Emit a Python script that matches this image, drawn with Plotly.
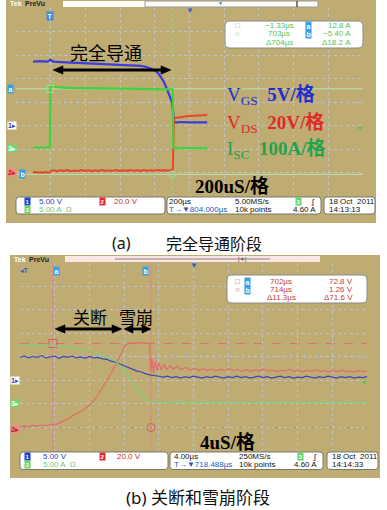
import plotly.graph_objects as go

W, H = 387, 510

# ====================== DATA ======================
# Panel (a) 完全导通阶段 : 200 µs/div, CH1 5 V/div, CH2 20 V/div, CH3 5 A/div
A_T_BLUE = [-99, -60, -20, -8, -1, 6, 20, 60, 120, 180, 250, 320, 380, 430, 480, 520, 550, 575,
            595, 610, 625, 640, 655, 668, 680, 692, 702, 706, 710, 714, 730, 760, 800, 850, 905]
A_V_BLUE = [13.5, 13.6, 13.5, 13.6, 13.9, 13.8, 13.5, 13.4, 13.3, 13.3, 13.1, 13.0, 12.9, 12.8, 12.7,
            12.6, 12.4, 12.1, 11.8, 11.4, 10.9, 10.1, 9.2, 8.1, 7.0, 6.0, 4.9, 3.6, 1.9, 0.64,
            0.55, 0.64, 0.55, 0.62, 0.55]
A_T_RED = [-99, -85, -70, -55, -40, -25, -10, -3, 3,
           20, 40, 60, 80, 100, 120, 140, 160, 180, 200, 220, 240, 260, 280, 300, 320, 340, 360,
           380, 400, 420, 440, 460, 480, 500, 520, 540, 560, 580, 600, 620, 640, 660, 680, 700,
           707, 710, 713, 720, 740, 760, 780, 800, 820, 840, 860, 880, 905]
A_V_RED = [0.4, 0.9, 0.2, 0.7, 0.3, 0.8, 0.2, 0.5, 1.6,
           2.3, 1.5, 2.2, 1.6, 2.4, 1.5, 2.1, 1.7, 2.4, 1.6, 2.2, 1.5, 2.3, 1.7, 2.4, 1.6, 2.2, 1.8,
           2.5, 1.7, 2.3, 1.6, 2.4, 1.8, 2.3, 1.7, 2.5, 1.8, 2.4, 1.9, 2.6, 1.9, 2.5, 2.0, 2.6,
           2.8, 25.0, 45.5, 46.8, 47.4, 47.9, 48.1, 48.4, 48.7, 48.9, 49.1, 49.2, 49.3]
A_T_GRN = [-99, -60, -20, -2, 1, 4, 8, 20, 60, 100, 200, 300, 400, 500, 600, 700, 706, 709, 720, 800, 905]
A_I_GRN = [0.32, 0.34, 0.30, 0.32, 13.6, 13.5, 13.3, 13.2, 13.1, 13.0, 12.95, 12.9, 12.85, 12.8,
           12.75, 12.7, 12.7, 0.3, 0.2, 0.2, 0.2]
A_CURSOR_T = [-1.33, 703.0]
A_CURSOR_I = [12.8, -5.40]
A_READ_T = ["\u22121.33\u00b5s", "703\u00b5s", "\u0394704\u00b5s"]
A_READ_Y = ["12.8 A", "\u22125.40 A", "\u039418.2 A"]

# Panel (b) 关断和雪崩阶段 : 4 µs/div
B_T = [698.2, 698.7, 699.2, 699.7, 700.2, 700.7, 701.2, 701.7, 702.2, 702.7,
       703.2, 703.7, 704.2, 704.7, 705.2, 705.7, 706.2, 706.7, 707.2, 707.7,
       708.2, 708.7, 709.2, 709.7, 710.2, 710.7, 711.2, 711.7, 712.2, 712.7,
       713.2, 713.7, 714.2, 714.7, 715.2, 715.7, 716.2, 716.7, 717.2, 717.7,
       718.2, 718.7, 719.2, 719.7, 720.2, 720.7, 721.2, 721.7, 722.2, 722.7,
       723.2, 723.7, 724.2, 724.7, 725.2, 725.7, 726.2, 726.7, 727.2, 727.7,
       728.2, 728.7, 729.2, 729.7, 730.2, 730.7, 731.2, 731.7, 732.2, 732.7,
       733.2, 733.7, 734.2, 734.7, 735.2, 735.7, 736.2, 736.7, 737.2, 737.7,
       738.2]
B_V_BLUE = [5.0, 5.3, 4.9, 5.2, 5.0, 5.4, 4.9, 5.1, 5.3, 4.8,
            5.2, 5.0, 5.3, 4.9, 5.1, 4.8, 5.2, 4.9, 5.0, 4.7,
            4.6, 4.2, 4.0, 3.6, 3.2, 2.9, 2.5, 2.1, 1.9, 1.5,
            1.3, 1.2, 1.0, 0.8, 1.0, 0.7, 0.9, 0.6, 0.9, 0.7,
            1.0, 0.8, 0.6, 0.9, 0.7, 1.0, 0.8, 0.6, 0.9, 0.7,
            1.0, 0.7, 0.9, 0.6, 0.8, 1.0, 0.7, 0.9, 0.6, 0.8,
            1.0, 0.7, 0.9, 0.6, 0.8, 0.7, 1.0, 0.8, 0.6, 0.9,
            0.7, 1.0, 0.8, 0.6, 0.9, 0.7, 0.9, 0.6, 0.8, 0.7,
            0.9]
B_I_GRN = [12.3, 12.5, 12.2, 12.4, 12.1, 12.4, 12.2, 12.3, 12.0, 12.2,
           11.9, 12.0, 11.7, 11.7, 11.5, 11.3, 11.1, 10.8, 10.5, 10.2,
           9.8, 9.4, 8.9, 7.9, 6.9, 5.6, 4.3, 2.9, 1.7, 0.8,
           0.3, 0.1, 0.3, 0.0, 0.2, 0.0, 0.3, 0.1, 0.2, -0.1,
           0.2, 0.0, 0.3, 0.1, 0.2, 0.0, 0.3, 0.1, -0.1, 0.2,
           0.0, 0.3, 0.1, 0.2, 0.0, 0.3, 0.1, 0.2, -0.1, 0.2,
           0.1, 0.3, 0.0, 0.2, 0.1, 0.3, 0.0, 0.2, 0.1, 0.3,
           0.0, 0.2, 0.1, 0.3, 0.0, 0.2, 0.1, 0.3, 0.0, 0.2,
           0.1]
B_T_RED = [698.2, 698.7, 699.2, 699.7, 700.2, 700.7, 701.2, 701.7, 702.2, 702.7,
           703.2, 703.7, 704.2, 704.7, 705.2, 705.7, 706.2, 706.6, 707.0, 707.4,
           707.8, 708.2, 708.6, 708.9, 709.2, 709.5, 709.8, 710.0, 710.3, 710.6,
           710.9, 711.2, 711.5, 711.8, 712.1, 712.4, 712.7, 713.0, 713.15, 713.25,
           713.4, 713.6, 713.8, 714.0, 714.2, 714.5, 714.8, 715.1, 715.5, 715.9,
           716.3, 716.8, 717.3, 717.8, 718.3, 718.8, 719.3, 719.8, 720.3, 720.8,
           721.3, 721.8, 722.3, 722.8, 723.3, 723.8, 724.3, 724.8, 725.3, 725.8,
           726.3, 726.8, 727.3, 727.8, 728.3, 728.8, 729.3, 729.8, 730.3, 730.8,
           731.3, 731.8, 732.3, 732.8, 733.3, 733.8, 734.3, 734.8, 735.3, 735.8,
           736.3, 736.8, 737.3, 737.8, 738.2]
B_V_RED = [1.5, 2.6, 1.8, 3.0, 2.2, 3.4, 2.7, 4.0, 3.3, 5.0,
           6.8, 8.6, 11.0, 12.8, 15.0, 17.4, 20.2, 23.0, 27.0, 31.5,
           36.0, 40.9, 46.0, 50.2, 54.5, 58.7, 63.0, 66.4, 70.6, 72.5,
           73.4, 72.8, 73.6, 73.0, 73.7, 72.9, 73.3, 72.6, 71.5, 48.5,
           60.4, 47.7, 57.9, 49.4, 56.2, 50.2, 55.0, 50.6, 54.0, 51.0,
           53.5, 50.5, 52.6, 50.2, 51.5, 49.8, 51.2, 50.0, 51.0, 49.5,
           50.8, 49.8, 51.4, 49.6, 50.6, 49.2, 50.5, 49.0, 50.3, 49.5,
           51.0, 49.2, 50.2, 48.8, 50.0, 49.4, 50.8, 49.0, 50.0, 48.6,
           49.8, 49.0, 50.4, 48.8, 49.6, 48.5, 49.8, 48.9, 50.0, 48.7,
           49.5, 48.4, 49.7, 48.8, 49.2]
B_CURSOR_T = [702.0, 713.3]
B_CURSOR_V = [72.8, 1.26]
B_READ_T = ["702\u00b5s", "714\u00b5s", "\u039411.3\u00b5s"]
B_READ_Y = ["72.8 V", "1.26 V", "\u039471.6 V"]

TRIG_LEVEL = 4.60
CH_SCALE = {"ch1": 5.0, "ch2": 20.0, "ch3": 5.0}

# ====================== LAYOUT HELPERS ======================
def px(x):
    return x / W


def py(y):
    return 1 - y / H


TAN = "#bfac72"
GRID = "#c2c2c2"
SANS = "Liberation Sans, DejaVu Sans"
SERIF = "Liberation Serif, Noto Sans CJK SC"
CJK = "Noto Sans CJK SC"

PANELS = {
    "a": dict(x0=16, x1=363, y0=8, y1=196, hpos=803.0, tdiv=200.0,
              gnd={"ch1": 3.02, "ch2": 0.98, "ch3": 2.0},
              xa="x", ya="y", y2="y3", y3="y4"),
    "b": dict(x0=20, x1=367, y0=262.5, y1=450.5, hpos=718.2, tdiv=4.0,
              gnd={"ch1": 2.96, "ch2": 0.915, "ch3": 2.02},
              xa="x2", ya="y2", y2="y5", y3="y6"),
}


def yrange(p, ch):
    g = PANELS[p]["gnd"][ch]
    s = CH_SCALE[ch]
    return [-g * s, (8 - g) * s]


def xrange_(p):
    P = PANELS[p]
    return [P["hpos"] - 5 * P["tdiv"], P["hpos"] + 5 * P["tdiv"]]


def P_(x, y):
    return f"{px(x):.5f},{py(y):.5f}"


def rrect(x0, y0, x1, y1, r):
    P = P_
    return (f"M {P(x0 + r, y0)} L {P(x1 - r, y0)} Q {P(x1, y0)} {P(x1, y0 + r)} "
            f"L {P(x1, y1 - r)} Q {P(x1, y1)} {P(x1 - r, y1)} L {P(x0 + r, y1)} "
            f"Q {P(x0, y1)} {P(x0, y1 - r)} L {P(x0, y0 + r)} Q {P(x0, y0)} {P(x0 + r, y0)} Z")


annotations = []
shapes = []


def T(text, x, y, size=9, color="black", family=SANS, xanchor="left", yanchor="middle", **kw):
    annotations.append(dict(text=text, x=px(x), y=py(y), xref="paper", yref="paper",
                            xanchor=xanchor, yanchor=yanchor, showarrow=False,
                            font=dict(size=size, color=color, family=family), **kw))


def tag(text, x, y, bg, fg="white", size=7, **kw):
    d = dict(text=f"<b>{text}</b>", showarrow=False, xanchor="center", yanchor="middle",
             font=dict(size=size, color=fg, family=SANS), bgcolor=bg, borderpad=0.5,
             x=px(x), y=py(y), xref="paper", yref="paper")
    d.update(kw)
    annotations.append(d)


def rect(x0, y0, x1, y1, fill, line=None, layer="below", lw=1):
    shapes.append(dict(type="rect", xref="paper", yref="paper", x0=px(x0), x1=px(x1),
                       y0=py(y1), y1=py(y0), fillcolor=fill,
                       line=dict(color=line or fill, width=lw if line else 0), layer=layer))


def arrow2(xa_, xb_, y, hl=10, hw=4.2):
    """double headed black arrow drawn as shapes (pixel coords)"""
    shapes.append(dict(type="line", xref="paper", yref="paper", x0=px(xa_ + hl - 2), x1=px(xb_ - hl + 2),
                       y0=py(y), y1=py(y), line=dict(color="black", width=2.8), layer="above"))
    for tip, base in ((xa_, xa_ + hl), (xb_, xb_ - hl)):
        shapes.append(dict(type="path", xref="paper", yref="paper",
                           path=f"M {P_(tip, y)} L {P_(base, y - hw)} L {P_(base, y + hw)} Z",
                           fillcolor="black", line=dict(color="black", width=0.5), layer="above"))


# ====================== FIGURE ======================
fig = go.Figure()

# Panel a traces
fig.add_trace(go.Scatter(x=A_T_GRN, y=A_I_GRN, xaxis="x", yaxis="y4", mode="lines",
                         line=dict(color="#3fd43f", width=2.2)))
fig.add_trace(go.Scatter(x=A_T_RED, y=A_V_RED, xaxis="x", yaxis="y3", mode="lines",
                         line=dict(color="#e8452d", width=2)))
fig.add_trace(go.Scatter(x=A_T_BLUE, y=A_V_BLUE, xaxis="x", yaxis="y", mode="lines",
                         line=dict(color="#3c3cdc", width=2.2)))
fig.add_trace(go.Scatter(x=A_CURSOR_T, y=A_CURSOR_I, xaxis="x", yaxis="y4", mode="markers",
                         marker=dict(symbol=["square-open", "circle-open"], size=7,
                                     color="#9adf9a", line=dict(width=1))))

# Panel b traces
fig.add_trace(go.Scatter(x=B_T, y=B_I_GRN, xaxis="x2", yaxis="y6", mode="lines",
                         line=dict(color="#7fcf7f", width=1.2)))
fig.add_trace(go.Scatter(x=B_T, y=B_V_BLUE, xaxis="x2", yaxis="y2", mode="lines",
                         line=dict(color="#3b47b8", width=1.2)))
fig.add_trace(go.Scatter(x=B_T_RED, y=B_V_RED, xaxis="x2", yaxis="y5", mode="lines",
                         line=dict(color="#e26c6c", width=1.2)))
fig.add_trace(go.Scatter(x=B_CURSOR_T, y=B_CURSOR_V, xaxis="x2", yaxis="y5", mode="markers",
                         marker=dict(symbol=["square-open", "circle-open"], size=8,
                                     color="#d85a5a", line=dict(width=1))))

# ---- frames ----
rect(6, 0, 376, 223, TAN)
rect(10, 255, 380, 478, TAN)

# ---- center-line tick marks on the graticules ----
for p, P in PANELS.items():
    wpx = P["x1"] - P["x0"]
    hpx = P["y1"] - P["y0"]
    xr, yr = P["xa"] + " domain", P["ya"] + " domain"
    for i in range(51):
        shapes.append(dict(type="line", xref=xr, yref=yr, x0=i / 50, x1=i / 50,
                           y0=0.5 - 2.5 / hpx, y1=0.5 + 2.5 / hpx,
                           line=dict(color="#b5b5b5", width=1), layer="below"))
    for j in range(41):
        shapes.append(dict(type="line", xref=xr, yref=yr, y0=j / 40, y1=j / 40,
                           x0=0.5 - 2.5 / wpx, x1=0.5 + 2.5 / wpx,
                           line=dict(color="#b5b5b5", width=1), layer="below"))

# ---- cursors panel a (green, on CH3) ----
for t in A_CURSOR_T:
    shapes.append(dict(type="line", xref="x", yref="y domain", x0=t, x1=t, y0=0, y1=1,
                       line=dict(color="#8fdc8f", width=1, dash="dot"), layer="below"))
for v in A_CURSOR_I:
    shapes.append(dict(type="line", xref="x domain", yref="y4", x0=0, x1=1, y0=v, y1=v,
                       line=dict(color="#b4e6b4", width=1), layer="below"))
# ---- cursors panel b (red, on CH2) ----
for t in B_CURSOR_T:
    shapes.append(dict(type="line", xref="x2", yref="y2 domain", x0=t, x1=t, y0=0, y1=1,
                       line=dict(color="#e08585", width=1), layer="below"))
for v in B_CURSOR_V:
    shapes.append(dict(type="line", xref="x2 domain", yref="y5", x0=0, x1=1, y0=v, y1=v,
                       line=dict(color="#dc7070", width=1, dash="dash"), layer="below"))

# ---- headers ----
T("<b>Tek</b>", 8, 4, size=7, color="white")
T("<b>PreVu</b>", 23, 4, size=7, color="#222")
rect(63, 1, 145, 7, "white", layer="above")
rect(145, 1, 318, 7, "#fbfbf6", line="#9a9a9a", layer="above")
shapes.append(dict(type="line", xref="paper", yref="paper", x0=px(297), x1=px(297),
                   y0=py(7), y1=py(1), line=dict(color="#555", width=1.5)))
T("\u25bc", 220, 3, size=5, color="#3a78c8", xanchor="center")

T("<b>Tek</b>", 12, 259, size=7, color="white")
T("<b>PreVu</b>", 27, 259, size=7, color="#222")
rect(65, 256, 320, 262, "#f8e6e3", layer="above")
shapes.append(dict(type="line", xref="paper", yref="paper", x0=px(115), x1=px(270),
                   y0=py(259), y1=py(259), line=dict(color="#9a8080", width=1)))
T("[\u2217]", 242, 259, size=6, color="#555", xanchor="center")

# ---- top markers ----
annotations.append(dict(text="<b>T</b>", x=0, xref="x", y=py(16), yref="paper", showarrow=False,
                        font=dict(size=7, color="white", family=SANS), bgcolor="#3b8ee0",
                        borderpad=0.5, xanchor="center", yanchor="middle"))
annotations.append(dict(text="\u25bc", x=0.5, xref="x domain", y=py(10), yref="paper", showarrow=False,
                        font=dict(size=8, color="#2f5fc0", family=SANS), xanchor="center", yanchor="middle"))
annotations.append(dict(text="\u25bc", x=0.5, xref="x2 domain", y=py(265), yref="paper", showarrow=False,
                        font=dict(size=8, color="#2f5fc0", family=SANS), xanchor="center", yanchor="middle"))
T("<b>\u25c2T</b>", 25, 270, size=7, color="#2f5fc0", xanchor="center")
for t, lab, sh in zip(B_CURSOR_T, ["a", "b"], [4, -5]):
    annotations.append(dict(text=f"<b>{lab}</b>", x=t, xref="x2", y=py(271), yref="paper",
                            showarrow=False, xshift=sh, font=dict(size=7, color="white", family=SANS),
                            bgcolor="#36a0e6", borderpad=0.5, xanchor="center", yanchor="middle"))
for v, lab, xx in zip(A_CURSOR_I, ["a", "b"], [10, 22]):
    annotations.append(dict(text=f"<b>{lab}</b>", x=px(xx), xref="paper", y=v, yref="y4",
                            showarrow=False, font=dict(size=7, color="white", family=SANS),
                            bgcolor="#36a0e6", borderpad=0.5, xanchor="center", yanchor="middle"))

# ---- channel ground tags on left + trigger level ----
for p, xx in (("a", 12), ("b", 15)):
    P = PANELS[p]
    for yref, lab, bg, fg in ((P["ya"], "1\u25b8", "white", "#2a3cc8"),
                              (P["y3"], "3\u25b8", "#6fd66f", "white"),
                              (P["y2"], "2\u25b8", "#f08a8a", "#b01818")):
        annotations.append(dict(text=f"<b>{lab}</b>", x=px(xx), xref="paper", y=0, yref=yref,
                                showarrow=False, font=dict(size=7, color=fg, family=SANS),
                                bgcolor=bg, borderpad=0, xanchor="center", yanchor="middle"))
    annotations.append(dict(text="\u25c2", x=1, xref=P["xa"] + " domain", y=TRIG_LEVEL,
                            yref=P["y3"], showarrow=False, font=dict(size=8, color="#4cc84c", family=SANS),
                            xanchor="right", yanchor="middle"))

# ---- cursor readout boxes ----
shapes.append(dict(type="path", path=rrect(225, 21, 363, 48, 5), xref="paper", yref="paper",
                   fillcolor="white", line=dict(color="#8a8a8a", width=1), layer="above"))
for i, (yy, ic) in enumerate(zip([25.5, 34, 42.5], ["\u25a1", "\u25cb", ""])):
    if ic:
        T(ic, 237, yy, size=8, color="#7fcf7f", xanchor="center")
        tag("ab"[i], 308, yy, "#36a0e6", size=7)
    T(A_READ_T[i], 279, yy, size=8, color="#55c455", xanchor="center")
    T(A_READ_Y[i], 353, yy, size=8, color="#55c455", xanchor="right")

shapes.append(dict(type="path", path=rrect(227, 275, 367, 303, 5), xref="paper", yref="paper",
                   fillcolor="white", line=dict(color="#8a8a8a", width=1), layer="above"))
for i, (yy, ic) in enumerate(zip([281.5, 289.5, 297.5], ["\u25a1", "\u25cb", ""])):
    if ic:
        T(ic, 238, yy, size=8, color="#c05050", xanchor="center")
        tag("ab"[i], 248, yy, "#36a0e6", size=7)
    T(B_READ_T[i], 281, yy, size=8, color="#c83a3a", xanchor="center")
    T(B_READ_Y[i], 355, yy, size=8, color="#c83a3a", xanchor="right")

# ---- status bars ----
STATUS = {
    "a": dict(y0=197, y1=214, r1=201.5, r2=209.8, boxes=[(16, 165), (167, 321), (324, 375)],
              icon1=27, txt1=37, icon2=102, txt2=112, mid=167, mid2=233, trig=298, trigr=318,
              right=327, tdiv="200\u00b5s", hpos="804.000\u00b5s", rate="5.00MS/s",
              date="18 Oct  2011", time="14:13:13"),
    "b": dict(y0=452, y1=469.5, r1=456.8, r2=464.8, boxes=[(20, 168), (170, 323), (327, 378)],
              icon1=27, txt1=41, icon2=102, txt2=115, mid=172, mid2=237, trig=300, trigr=319,
              right=330, tdiv="4.00\u00b5s", hpos="718.488\u00b5s", rate="250MS/s",
              date="18 Oct  2011", time="14:14:33"),
}
for p, S in STATUS.items():
    for (bx0, bx1) in S["boxes"]:
        shapes.append(dict(type="path", path=rrect(bx0, S["y0"], bx1, S["y1"], 3), xref="paper",
                           yref="paper", fillcolor="white", line=dict(color="#7a7a6a", width=1),
                           layer="above"))
    tag("1", S["icon1"], S["r1"], "#1c3fd0", size=6)
    T("5.00 V", S["txt1"], S["r1"], size=8, color="#1f3fbf")
    tag("2", S["icon2"], S["r1"], "#e02828", size=6)
    T("20.0 V", S["txt2"], S["r1"], size=8, color="#d02a2a")
    tag("3", S["icon1"], S["r2"], "#66d466", size=6)
    T("5.00 A  \u03a9", S["txt1"], S["r2"], size=8, color="#72c872")
    T(S["tdiv"], S["mid"], S["r1"], size=8, color="#111")
    T("T\u2192\u25bc" + S["hpos"], S["mid"], S["r2"], size=8, color="#2a55c0")
    T(S["rate"], S["mid2"], S["r1"], size=8, color="#111")
    T("10k points", S["mid2"], S["r2"], size=8, color="#111")
    tag("3", S["trig"], S["r1"], "#66d466", size=6)
    T("\u0283", S["trig"] + 11, S["r1"], size=8, color="#111")
    T("4.60 A", S["trigr"], S["r2"], size=8, color="#111", xanchor="right")
    T(S["date"], S["right"], S["r1"], size=8, color="#111")
    T(S["time"], S["right"], S["r2"], size=8, color="#111")

# ---- overlay labels ----
T("完全导通", 106, 52, size=18, color="black", family=CJK, xanchor="center")
arrow2(53, 171, 70)
T("V<sub>GS</sub>  <b>5V/格</b>", 225, 96, size=19, color="#1f2fd0", family=SERIF)
T("V<sub>DS</sub>  <b>20V/格</b>", 225, 124, size=19, color="#e02a2a", family=SERIF)
T("I<sub>SC</sub>  <b>100A/格</b>", 225, 150, size=19, color="#1fa34c", family=SERIF)
T("<b>200uS/格</b>", 193, 186, size=19, color="black", family=SERIF)

T("关断", 90, 316, size=17, color="black", family=CJK, xanchor="center")
T("雪崩", 136, 316, size=17, color="black", family=CJK, xanchor="center")
arrow2(55, 122, 329)
arrow2(124, 151, 329, hl=9)
T("<b>4uS/格</b>", 198, 442, size=19, color="black", family=SERIF)

# ---- captions ----
T("(a)", 110, 243, size=16, color="#111", family="Noto Sans, " + CJK)
T("完全导通阶段", 164, 243, size=16, color="#111", family=CJK)
T("(b) 关断和雪崩阶段", 124, 497, size=17, color="#111", family="Noto Sans, " + CJK)

# ====================== AXES ======================
def xa(p):
    P = PANELS[p]
    r = xrange_(p)
    return dict(domain=[px(P["x0"]), px(P["x1"])], range=r, anchor=P["ya"],
                showgrid=True, gridcolor=GRID, griddash="dot", gridwidth=1,
                dtick=P["tdiv"], tick0=r[0], showticklabels=False, ticks="",
                zeroline=False, showline=False, fixedrange=True)


def ya(p):
    P = PANELS[p]
    r = yrange(p, "ch1")
    return dict(domain=[py(P["y1"]), py(P["y0"])], range=r, anchor=P["xa"],
                showgrid=True, gridcolor=GRID, griddash="dot", gridwidth=1,
                dtick=CH_SCALE["ch1"], tick0=r[0], showticklabels=False, ticks="",
                zeroline=False, showline=False, fixedrange=True)


def yo(p, ch):
    P = PANELS[p]
    return dict(overlaying=P["ya"], range=yrange(p, ch), anchor=P["xa"], visible=False,
                showgrid=False, zeroline=False, fixedrange=True)


fig.update_layout(
    width=W, height=H, margin=dict(l=0, r=0, t=0, b=0),
    paper_bgcolor="white", plot_bgcolor="white", showlegend=False,
    xaxis=xa("a"), yaxis=ya("a"), yaxis3=yo("a", "ch2"), yaxis4=yo("a", "ch3"),
    xaxis2=xa("b"), yaxis2=ya("b"), yaxis5=yo("b", "ch2"), yaxis6=yo("b", "ch3"),
    shapes=shapes, annotations=annotations,
)

fig.write_html("out.html", config={"displayModeBar": False},
               post_script="document.body.style.margin='0px';document.body.style.overflow='hidden';")
